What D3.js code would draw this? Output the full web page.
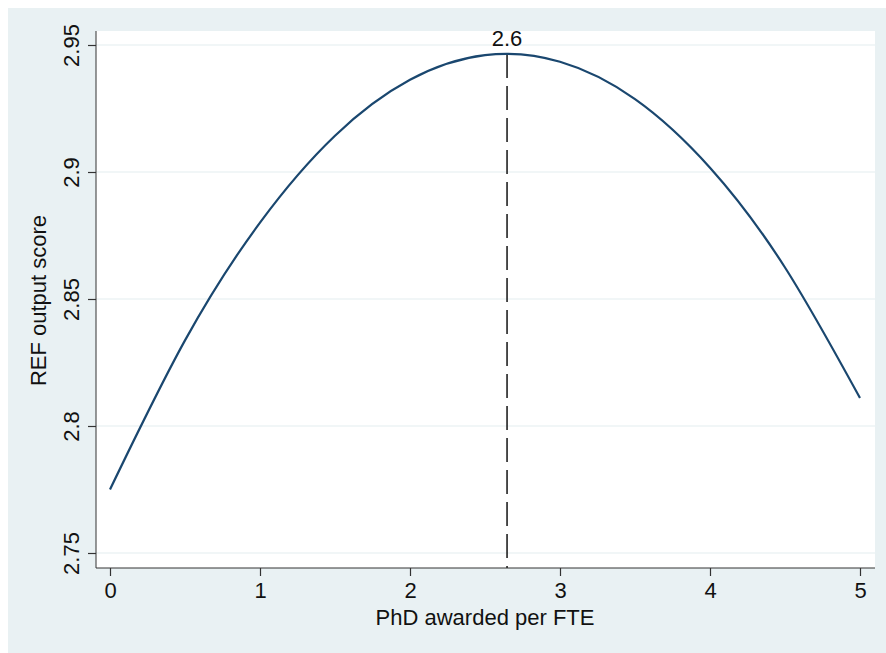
<!DOCTYPE html>
<html>
<head>
<meta charset="utf-8">
<script src="https://cdn.jsdelivr.net/npm/d3@7"></script>
<style>
  body { margin: 0; background: #ffffff; }
  svg { display: block; font-family: "Liberation Sans", Arial, Helvetica, sans-serif; }
</style>
</head>
<body>
<svg id="chart"></svg>
<script>
// values
const phdPerFte = [0, 0.5, 1, 1.5, 2, 2.5, 3, 3.5, 4, 4.5, 5];
const refScore = [2.7750, 2.8337, 2.8801, 2.9143, 2.9363, 2.9460, 2.9434, 2.9287, 2.9017, 2.8624, 2.8110];
const peakX = 2.647;
const peakScore = 2.9465;
const peakLabel = '2.6';
const xTicks = [0, 1, 2, 3, 4, 5];
const yTicks = [2.75, 2.8, 2.85, 2.9, 2.95];
const yTickLabels = ['2.75', '2.8', '2.85', '2.9', '2.95'];

function buildChart() {
    const width = 886;
    const height = 653;
    const svg = d3.select('#chart').attr('width', width).attr('height', height);

    //outer graph region
    svg.append('rect').attr('x', 8).attr('y', 8).attr('width', width - 8).attr('height', height - 8)
        .attr('fill', '#e9f1f3');

    //plot region
    const plot = { left: 96, right: 875, top: 31, bottom: 568 };
    svg.append('rect').attr('x', plot.left).attr('y', plot.top)
        .attr('width', plot.right - plot.left).attr('height', plot.bottom - plot.top)
        .attr('fill', '#ffffff');

    const x = d3.scaleLinear().domain([0, 5]).range([110, 860]);
    const y = d3.scaleLinear().domain([2.75, 2.95]).range([553, 45]);

    //grid lines
    svg.append('g')
        .selectAll('line')
        .data(yTicks)
        .enter()
        .append('line')
        .attr('x1', plot.left).attr('x2', plot.right)
        .attr('y1', d => y(d)).attr('y2', d => y(d))
        .attr('stroke', '#e4edf0').attr('stroke-width', 1.2);

    //y axis
    const yAxis = svg.append('g')
        .attr('transform', `translate(${plot.left},0)`)
        .call(d3.axisLeft(y).tickValues(yTicks).tickSize(8).tickPadding(0)
            .tickFormat((d, i) => yTickLabels[i]));
    yAxis.select('.domain').attr('d', `M0,${plot.top}V${plot.bottom}`).attr('stroke', '#333');
    yAxis.selectAll('.tick line').attr('stroke', '#333').attr('stroke-width', 1.2);
    yAxis.selectAll('.tick text')
        .attr('x', 0).attr('dy', 0)
        .attr('transform', 'translate(-17,0) rotate(-90)')
        .attr('text-anchor', 'middle')
        .attr('font-size', 22).attr('fill', '#111');

    //x axis
    const xAxis = svg.append('g')
        .attr('transform', `translate(0,${plot.bottom})`)
        .call(d3.axisBottom(x).tickValues(xTicks).tickSize(8).tickPadding(6)
            .tickFormat(d3.format('d')));
    xAxis.select('.domain').attr('d', `M${plot.left},0H${plot.right}`).attr('stroke', '#333');
    xAxis.selectAll('.tick line').attr('stroke', '#333').attr('stroke-width', 1.2);
    xAxis.selectAll('.tick text').attr('font-size', 22).attr('fill', '#111');

    //axis titles
    svg.append('text')
        .attr('x', x(2.5)).attr('y', 625)
        .attr('text-anchor', 'middle').attr('font-size', 22).attr('fill', '#111')
        .text('PhD awarded per FTE');
    svg.append('text')
        .attr('transform', `translate(46,${(plot.top + plot.bottom) / 2 + 1}) rotate(-90)`)
        .attr('text-anchor', 'middle').attr('font-size', 22).attr('fill', '#111')
        .text('REF output score');

    //peak line
    svg.append('line')
        .attr('x1', x(peakX)).attr('x2', x(peakX))
        .attr('y1', y(peakScore)).attr('y2', plot.bottom)
        .attr('stroke', '#222').attr('stroke-width', 1.6)
        .attr('stroke-dasharray', '24,8');
    svg.append('text')
        .attr('x', x(peakX)).attr('y', 46)
        .attr('text-anchor', 'middle').attr('font-size', 22).attr('fill', '#111')
        .text(peakLabel);

    //fitted curve
    const line = d3.line()
        .x((d, i) => x(phdPerFte[i]))
        .y(d => y(d))
        .curve(d3.curveNatural);
    svg.append('path')
        .datum(refScore)
        .attr('d', line)
        .attr('fill', 'none')
        .attr('stroke', '#1a476f')
        .attr('stroke-width', 2.2);
}

buildChart();
</script>
</body>
</html>
